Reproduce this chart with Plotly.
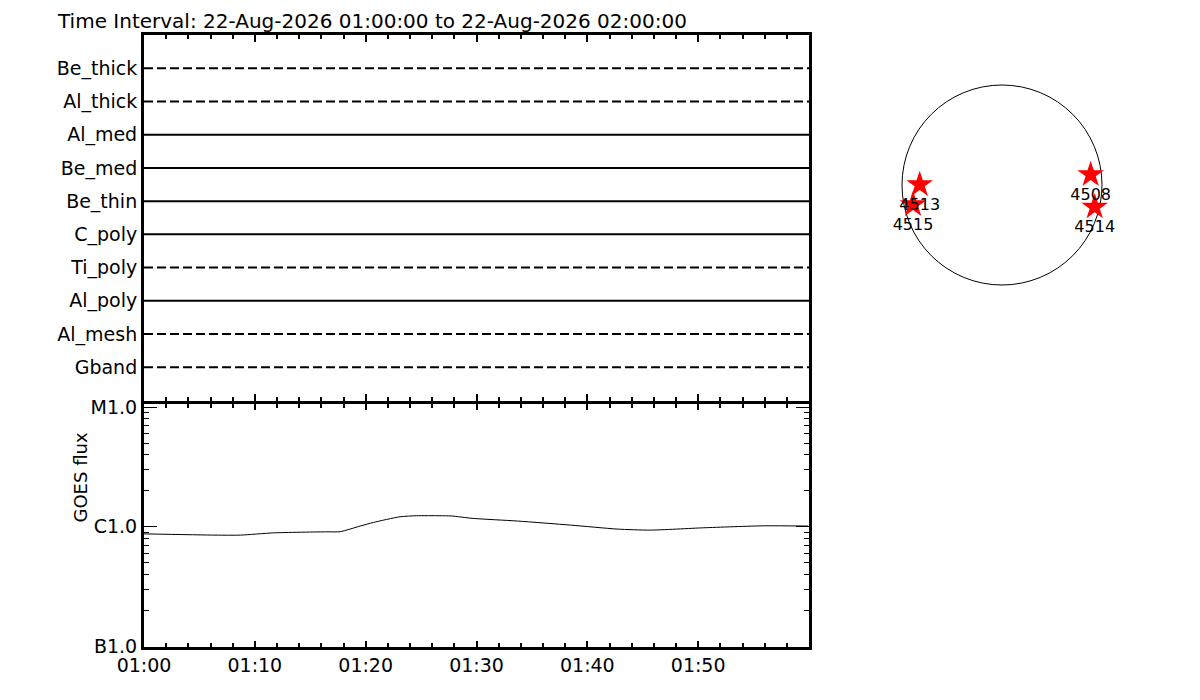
import plotly.graph_objects as go

# Intervalo de tempo
T_INICIO = "2026-08-22 01:00:00"
T_FIM = "2026-08-22 02:00:00"

# Linhas do painel superior (de cima para baixo) e se sao tracejadas
filtros = ["Be_thick", "Al_thick", "Al_med", "Be_med", "Be_thin",
           "C_poly", "Ti_poly", "Al_poly", "Al_mesh", "Gband"]
tracejado = [True, True, False, False, False, False, True, False, True, True]

# Curva GOES
goes_tempo = [
    "2026-08-22 01:00:00", "2026-08-22 01:06:30", "2026-08-22 01:08:42",
    "2026-08-22 01:11:42", "2026-08-22 01:16:30", "2026-08-22 01:17:42",
    "2026-08-22 01:19:30", "2026-08-22 01:20:42", "2026-08-22 01:23:06",
    "2026-08-22 01:24:36", "2026-08-22 01:26:42", "2026-08-22 01:27:42",
    "2026-08-22 01:29:42", "2026-08-22 01:33:42", "2026-08-22 01:38:30",
    "2026-08-22 01:42:42", "2026-08-22 01:45:42", "2026-08-22 01:50:30",
    "2026-08-22 01:55:54", "2026-08-22 01:59:54",
]
goes_fluxo = [
    8.73e-7, 8.52e-7, 8.52e-7, 8.90e-7, 9.08e-7, 9.10e-7, 1.014e-6,
    1.087e-6, 1.213e-6, 1.237e-6, 1.237e-6, 1.232e-6, 1.175e-6,
    1.117e-6, 1.033e-6, 9.57e-7, 9.38e-7, 9.81e-7, 1.019e-6, 1.014e-6,
]

# Eixos
x_rotulos = ["01:00", "01:10", "01:20", "01:30", "01:40", "01:50"]
y_goes_vals = [1e-7, 1e-6, 1e-5]
y_goes_txt = ["B1.0", "C1.0", "M1.0"]

# Disco solar e regioes ativas (arcsec)
R_SOL = 960
regioes = ["4513", "4515", "4508", "4514"]
reg_x = [-790, -854, 851, 890]
reg_y = [3, -189, 99, -211]

# Geometria: a pagina tem margem de 8px, entao o papel comeca em (8, 8)
OFF = 8
W, H = 1200 - OFF, 700 - OFF


def fx(px):
    return (px - OFF) / W


def fy(py):
    return 1 - (py - OFF) / H


x_dom = [fx(144), fx(809)]
y_dom_sup = [fy(400.5), fy(35)]
y_dom_inf = [fy(646.5), fy(403.5)]

fonte = "DejaVu Sans"
cor_linha = "black"

fig = go.Figure()

n = len(filtros)
for i, (nome, tr) in enumerate(zip(filtros, tracejado)):
    nivel = n - i
    fig.add_trace(go.Scatter(
        x=[T_INICIO, T_FIM], y=[nivel, nivel],
        mode="lines",
        line=dict(color=cor_linha, width=2, dash="9px,4px" if tr else "solid"),
        xaxis="x", yaxis="y", showlegend=False, hoverinfo="skip",
    ))

fig.add_trace(go.Scatter(
    x=goes_tempo, y=goes_fluxo, mode="lines",
    line=dict(color=cor_linha, width=1, shape="spline", smoothing=0.6),
    xaxis="x2", yaxis="y2", showlegend=False,
))

fig.add_trace(go.Scatter(
    x=reg_x, y=reg_y, mode="markers+text",
    marker=dict(symbol="star", size=20, color="red", line=dict(width=0)),
    text=regioes, textposition="bottom center",
    textfont=dict(size=16, color="black", family=fonte),
    xaxis="x3", yaxis="y3", showlegend=False,
))

fig.add_shape(
    type="circle", xref="x3", yref="y3",
    x0=-R_SOL, y0=-R_SOL, x1=R_SOL, y1=R_SOL,
    line=dict(color="black", width=1), layer="below",
)

tick_vals = [T_INICIO[:11] + r + ":00" for r in x_rotulos]
eixo_x = dict(
    type="date", range=[T_INICIO, T_FIM], domain=x_dom,
    showline=True, linewidth=3, linecolor=cor_linha, mirror="allticks",
    ticks="inside", tickwidth=2, tickcolor=cor_linha,
    tickmode="array", tickvals=tick_vals,
    showgrid=False, zeroline=False,
    minor=dict(ticks="inside", ticklen=4, tickwidth=2, tickcolor=cor_linha,
               tick0=T_INICIO, dtick=120000, showgrid=False),
)

fig.update_layout(
    width=W, height=H,
    margin=dict(l=0, r=0, t=0, b=0, autoexpand=False),
    paper_bgcolor="white", plot_bgcolor="white",
    font=dict(family=fonte, color="black", size=19),
    title=dict(
        text="Time Interval: 22-Aug-2026 01:00:00 to 22-Aug-2026 02:00:00",
        x=fx(58), xanchor="left", y=fy(21), yanchor="middle",
        font=dict(size=20, family=fonte, color="black"),
    ),
    xaxis={**eixo_x, "anchor": "y", "ticklen": 7, "showticklabels": False},
    yaxis=dict(
        domain=y_dom_sup, anchor="x", range=[0, n + 1],
        tickmode="array", tickvals=list(range(n, 0, -1)), ticktext=filtros,
        ticks="", showline=True, linewidth=3, linecolor=cor_linha, mirror=True,
        showgrid=False, zeroline=False, tickfont=dict(size=19),
    ),
    xaxis2={**eixo_x, "anchor": "y2", "ticklen": 6,
            "ticktext": x_rotulos, "showticklabels": True,
            "tickfont": dict(size=19)},
    yaxis2=dict(
        domain=y_dom_inf, anchor="x2", type="log", range=[-7.0, -4.97],
        tickmode="array", tickvals=y_goes_vals, ticktext=y_goes_txt,
        ticks="inside", ticklen=13, tickwidth=1, tickcolor=cor_linha,
        showline=True, linewidth=3, linecolor=cor_linha, mirror="allticks",
        showgrid=False, zeroline=False, tickfont=dict(size=19),
        minor=dict(ticks="inside", ticklen=5, tickwidth=1, tickcolor=cor_linha,
                   dtick="D1", showgrid=False),
    ),
    xaxis3=dict(domain=[fx(882), fx(1122)], anchor="y3",
                range=[-1152, 1152], visible=False),
    yaxis3=dict(domain=[fy(305), fy(65)], anchor="x3",
                range=[-1152, 1152], visible=False),
    annotations=[dict(
        text="GOES flux", xref="paper", yref="paper",
        x=fx(67), y=fy(525), textangle=-90, showarrow=False,
        font=dict(size=18, family=fonte, color="black"),
    )],
)

fig.write_html("out.html")
